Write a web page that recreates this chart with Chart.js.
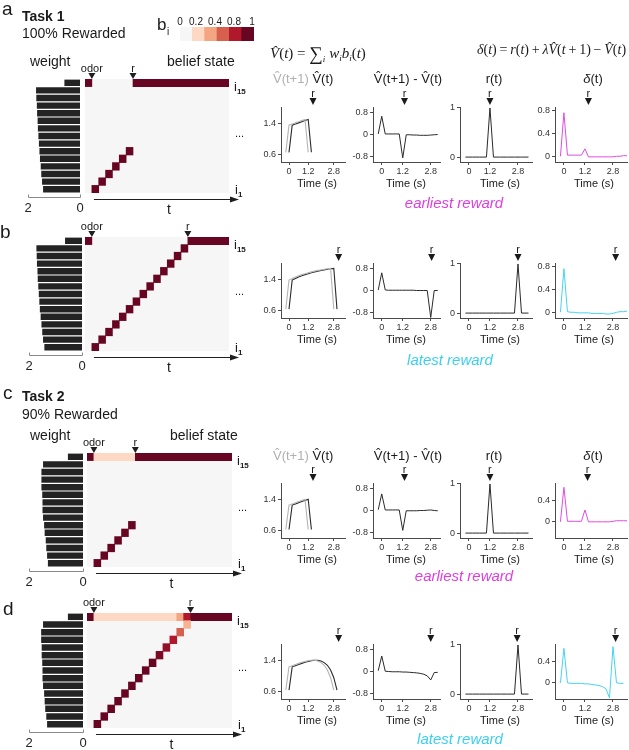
<!DOCTYPE html>
<html>
<head>
<meta charset="utf-8">
<script src="https://cdn.jsdelivr.net/npm/chart.js@4.4.1/dist/chart.umd.min.js"></script>
<style>
html,body{margin:0;padding:0;background:#fff;}
#root{position:relative;width:629px;height:750px;overflow:hidden;font-family:"Liberation Sans",Arial,sans-serif;color:#1a1a1a;}
.t{position:absolute;white-space:nowrap;line-height:1;}
.serif{font-family:"Liberation Serif","Times New Roman",serif;}
canvas{position:absolute;}
</style>
</head>
<body>
<div id="root"></div>
<script>
// ================= DATA =================
const states = ['i15','i14','i13','i12','i11','i10','i9','i8','i7','i6','i5','i4','i3','i2','i1'];

const weightsA = [0.60,1.69,1.68,1.66,1.65,1.63,1.62,1.60,1.58,1.56,1.54,1.51,1.49,1.46,1.42];
const weightsB = [0.64,1.72,1.71,1.70,1.68,1.67,1.65,1.63,1.61,1.59,1.56,1.53,1.50,1.47,1.42];
const weightsC = [0.56,1.48,1.54,1.54,1.54,1.51,1.50,1.50,1.48,1.44,1.42,1.38,1.36,1.33,1.30];
const weightsD = [0.56,1.48,1.55,1.55,1.53,1.53,1.51,1.50,1.50,1.48,1.44,1.42,1.40,1.36,1.33];
const weightTicks = [0, 2];
const weightTickLabels = ['0', '2'];

// belief cells: [state, startColumn, endColumn, b_i]
const N_COLS = 21;
const ODOR_COL = 1;
const rewardColumns = [7, 15, 7, 15];
const beliefA = [[15,0,1,1],[1,1,2,1],[2,2,3,1],[3,3,4,1],[4,4,5,1],[5,5,6,1],[6,6,7,1],[15,7,21,1]];
const beliefB = [[15,0,1,1],[1,1,2,1],[2,2,3,1],[3,3,4,1],[4,4,5,1],[5,5,6,1],[6,6,7,1],[7,7,8,1],
                 [8,8,9,1],[9,9,10,1],[10,10,11,1],[11,11,12,1],[12,12,13,1],[13,13,14,1],[14,14,15,1],[15,15,21,1]];
const beliefC = [[15,0,1,1],[15,1,7,0.2],[1,1,2,1],[2,2,3,1],[3,3,4,1],[4,4,5,1],[5,5,6,1],[6,6,7,1],[15,7,21,1]];
const beliefD = [[15,0,1,1],[15,1,13,0.2],[15,13,14,0.4],[15,14,15,0.8],[15,15,21,1],
                 [1,1,2,1],[2,2,3,1],[3,3,4,1],[4,4,5,1],[5,5,6,1],[6,6,7,1],[7,7,8,1],[8,8,9,1],[9,9,10,1],
                 [10,10,11,0.95],[11,11,12,0.88],[12,12,13,0.8],[13,13,14,0.6],[14,14,15,0.35]];

const colorbarValues = [0, 0.2, 0.4, 0.6, 0.8, 1];
const colorbarLabels = ['0', '0.2', '0.4', '0.8', '1'];
const cmapStops = [[0,'#f6f6f6'],[0.2,'#fdd9c3'],[0.4,'#f4a582'],[0.6,'#d6604d'],[0.8,'#b2182b'],[1,'#680522']];

// time axis (s) shared by the line panels
const tFull = [-0.2,0,0.2,0.4,0.6,0.8,1.0,1.2,1.4,1.6,1.8,2.0,2.2,2.4,2.6,2.8,3.0,3.2,3.4,3.6];
const timeTicks = [0, 1.2, 2.8];
const timeTickLabels = ['0', '1.2', '2.8'];

// row a (Task 1, earliest reward)
const vNowA  = [null,0.65,1.35,1.38,1.41,1.44,1.47,1.50,0.65];
const vNextA = [0.65,1.35,1.38,1.41,1.44,1.47,1.50,0.65];
const dVA    = [0.03,0.68,0.03,0.03,0.03,0.03,0.03,-0.85,0.00,0.00,-0.01,-0.01,-0.02,-0.02,-0.02,-0.01,0.00,0.01];
const rA     = [0,0,0,0,0,0,0,1,0,0,0,0,0,0,0,0,0,0,0];
const deltaA = [0,0.76,0.02,0.02,0.02,0.02,0.02,0.13,-0.01,-0.01,-0.01,-0.01,-0.01,-0.01,-0.01,-0.01,0.00,0.00,0.01,0.01];
// row b (Task 1, latest reward)
const vNowB  = [null,0.63,1.38,1.42,1.46,1.49,1.52,1.54,1.57,1.59,1.61,1.63,1.64,1.66,1.67,1.68,0.63];
const vNextB = [0.63,1.38,1.42,1.46,1.49,1.52,1.54,1.57,1.59,1.61,1.63,1.64,1.66,1.67,1.68,0.63];
const dVB    = [0.03,0.66,0.03,0.02,0.02,0.02,0.02,0.02,0.02,0.02,0.02,0.01,0.01,0.01,0.01,-0.98,0.01,0.01];
const rB     = [0,0,0,0,0,0,0,0,0,0,0,0,0,0,0,1,0,0,0];
const deltaB = [0,0.76,0.01,0.00,0.00,-0.01,-0.01,-0.01,-0.01,-0.02,-0.02,-0.02,-0.02,-0.03,-0.03,-0.02,0.00,0.01,0.01,0.02];
// row c (Task 2, earliest reward)
const vNowC  = [null,0.62,1.25,1.28,1.31,1.34,1.37,1.40,0.62];
const vNextC = [0.62,1.25,1.28,1.31,1.34,1.37,1.40,0.62];
const dVC    = [0.04,0.62,0.03,0.03,0.03,0.03,0.03,-0.72,0.00,0.00,0.00,0.00,0.01,0.01,0.02,0.03,0.01,0.00];
const rC     = [0,0,0,0,0,0,0,1,0,0,0,0,0,0,0,0,0,0,0];
const deltaC = [0,0.64,0.01,0.01,0.01,0.01,0.01,0.22,0.00,0.00,0.00,0.00,0.00,0.00,0.00,0.01,0.02,0.02,0.02,0.02];
// row d (Task 2, latest reward)
const vNowD  = [null,0.63,1.23,1.26,1.29,1.32,1.35,1.37,1.39,1.40,1.40,1.38,1.34,1.27,1.15,0.95,0.63];
const vNextD = [0.63,1.23,1.26,1.29,1.32,1.35,1.37,1.39,1.40,1.40,1.38,1.34,1.27,1.15,0.95,0.63];
const dVD    = [0.04,0.58,0.02,0.01,0.00,0.00,0.00,-0.01,-0.01,-0.02,-0.03,-0.04,-0.06,-0.09,-0.15,-0.30,-0.03,-0.02];
const rD     = [0,0,0,0,0,0,0,0,0,0,0,0,0,0,0,1,0,0,0];
const deltaD = [0,0.64,0.00,-0.01,-0.01,-0.01,-0.01,-0.02,-0.02,-0.03,-0.04,-0.05,-0.07,-0.11,-0.28,0.67,0.00,-0.01,-0.01];

// reward-arrow times drawn above each small panel [V, dV, r, delta]
const arrowTimesA = [1.5, 1.3, 1.2, 1.4];
const arrowTimesB = [3.1, 2.85, 2.8, 2.95];
const arrowTimesC = [1.5, 1.3, 1.2, 1.35];
const arrowTimesD = [3.1, 2.8, 2.75, 2.95];

const vTicks = [0.6, 1.4], vTickLabels = ['0.6', '1.4'];
const dVTicks = [-0.8, 0, 0.8], dVTickLabels = ['-0.8', '0', '0.8'];
const rTicks = [0, 1], rTickLabels = ['0', '1'];
const deltaTicks1 = [0, 0.4, 0.8], deltaTickLabels1 = ['0', '0.4', '0.8'];
const deltaTicks2 = [0, 0.4], deltaTickLabels2 = ['0', '0.4'];

// ================= DRAWING =================
const MAGENTA = '#e14be4', CYAN = '#45d3ef';
Chart.defaults.font.family = '"Liberation Sans", Arial, sans-serif';
Chart.defaults.color = '#333';
const root = document.getElementById('root');

function txt(html, x, base, size, o = {}) {
  const d = document.createElement('div');
  d.className = 't' + (o.serif ? ' serif' : '');
  d.innerHTML = html;
  d.style.fontSize = size + 'px';
  d.style.top = (base - 0.85 * size) + 'px';
  d.style.left = x + 'px';
  if (o.bold) d.style.fontWeight = 'bold';
  if (o.italic) d.style.fontStyle = 'italic';
  if (o.color) d.style.color = o.color;
  if (o.anchor === 'center') d.style.transform = 'translateX(-50%)';
  root.appendChild(d);
  return d;
}
function canvasAt(x, y, w, h) {
  const c = document.createElement('canvas');
  c.width = w; c.height = h;
  c.style.left = x + 'px'; c.style.top = y + 'px';
  c.style.width = w + 'px'; c.style.height = h + 'px';
  root.appendChild(c);
  return c;
}
function hexToRgb(h) { return [1,3,5].map(i => parseInt(h.slice(i, i + 2), 16)); }
function cmap(v) {
  for (let k = 1; k < cmapStops.length; k++) {
    const [v0, c0] = cmapStops[k - 1], [v1, c1] = cmapStops[k];
    if (v <= v1) {
      const f = (v - v0) / (v1 - v0), a = hexToRgb(c0), b = hexToRgb(c1);
      return 'rgb(' + a.map((q, i) => Math.round(q + (b[i] - q) * f)).join(',') + ')';
    }
  }
  return cmapStops[cmapStops.length - 1][1];
}
function tri(ctx, x, yTip, w, h) {
  ctx.beginPath(); ctx.moveTo(x - w / 2, yTip - h); ctx.lineTo(x + w / 2, yTip - h); ctx.lineTo(x, yTip); ctx.closePath(); ctx.fill();
}
const base = { responsive: false, animation: false, devicePixelRatio: 1 };

// ---- plugins
const rMark = { id: 'rmark', afterDraw(chart, args, o) {
  if (o.t == null) return;
  const { ctx, chartArea: a, scales: { x } } = chart;
  ctx.save(); ctx.fillStyle = '#1a1a1a'; tri(ctx, x.getPixelForValue(o.t), a.top - 2, 7, 7); ctx.restore();
}};
const hmDeco = { id: 'hmdeco', afterDraw(chart, args, o) {
  const { ctx, chartArea: a, scales: { x } } = chart;
  ctx.save(); ctx.fillStyle = '#1f1f1f'; ctx.strokeStyle = '#1f1f1f';
  tri(ctx, x.getPixelForValue(o.odorCol), a.top, 7, 6);
  tri(ctx, x.getPixelForValue(o.rewardCol), a.top, 7, 6);
  const y = Math.round(a.bottom + 6) + 0.5;
  const x0 = x.getPixelForValue(o.tStart), x1 = a.right + 10;
  ctx.lineWidth = 1.2; ctx.beginPath(); ctx.moveTo(x0, y); ctx.lineTo(x1 - 6, y); ctx.stroke();
  ctx.beginPath(); ctx.moveTo(x1, y); ctx.lineTo(x1 - 9, y - 3); ctx.lineTo(x1 - 9, y + 3); ctx.closePath(); ctx.fill();
  ctx.restore();
}};
const wAxis = { id: 'waxis', afterDraw(chart) {
  const { ctx, chartArea: a, scales: { x } } = chart;
  const y = Math.round(a.bottom + 4) + 0.5;
  const xl = Math.round(x.getPixelForValue(2)) + 0.5, xr = Math.round(x.getPixelForValue(0)) + 0.5;
  ctx.save(); ctx.strokeStyle = '#8a8a8a'; ctx.lineWidth = 1;
  ctx.beginPath(); ctx.moveTo(xl, y - 3); ctx.lineTo(xl, y); ctx.lineTo(xr, y); ctx.lineTo(xr, y - 3); ctx.stroke();
  ctx.restore();
}};

// ---- builders
const COLS = [
  { left: 281, w: 64, xmin: -0.5,  xmax: 3.5 },
  { left: 373, w: 67, xmin: -0.5,  xmax: 3.33 },
  { left: 460, w: 72, xmin: -0.51, xmax: 3.6 },
  { left: 555, w: 72, xmin: -0.51, xmax: 3.6 }
];
const PLOT_H = 55;
const TIME_LABEL_X = [317, 406, 500, 594];

function lineChart(col, top, sets, yMin, yMax, yTicks, yLabels, arrowT) {
  const C = COLS[col], padL = 30, padT = 20, padR = 5, padB = 14;
  const cx = C.left - padL, cy = top - padT;
  const cv = canvasAt(cx, cy, C.w + padL + padR, PLOT_H + padT + padB);
  const axisCol = '#4a4a4a';
  const chart = new Chart(cv, {
    type: 'line',
    data: { datasets: sets.map(d => ({
      data: d.values.map((v, i) => ({ x: tFull[i], y: v })).filter(p => p.y !== null),
      borderColor: d.color, borderWidth: d.width || 1, pointRadius: 0, tension: 0, fill: false })) },
    options: Object.assign({}, base, {
      layout: { padding: { top: padT, right: padR, left: 0, bottom: 0 } },
      plugins: { legend: { display: false }, tooltip: { enabled: false }, rmark: { t: arrowT } },
      scales: {
        x: { type: 'linear', min: C.xmin, max: C.xmax,
          afterBuildTicks: s => { s.ticks = timeTicks.map(v => ({ value: v })); },
          afterFit: s => { s.height = padB; },
          grid: { drawOnChartArea: false, tickLength: 3, color: axisCol },
          border: { color: axisCol, width: 1 },
          ticks: { font: { size: 9 }, color: '#333', padding: 1, maxRotation: 0, autoSkip: false, callback: (v, i) => timeTickLabels[i] } },
        y: { type: 'linear', min: yMin, max: yMax,
          afterBuildTicks: s => { s.ticks = yTicks.map(v => ({ value: v })); },
          afterFit: s => { s.width = padL; },
          grid: { drawOnChartArea: false, tickLength: 3, color: axisCol },
          border: { color: axisCol, width: 1 },
          ticks: { font: { size: 9 }, color: '#333', padding: 2, autoSkip: false, callback: (v, i) => yLabels[i] } }
      }
    }),
    plugins: [rMark]
  });
  txt('r', cx + chart.scales.x.getPixelForValue(arrowT), top - 10, 11, { anchor: 'center' });
  txt('Time (s)', TIME_LABEL_X[col], top + PLOT_H + 25, 11, { anchor: 'center' });
  return chart;
}

function heatmap(L, cells, rewardCol) {
  const padT = 8, padB = 12, padR = 16;
  const w = L.hmRight - L.hmLeft, h = L.hmBottom - L.hmTop;
  const cx = L.hmLeft, cy = L.hmTop - padT;
  const cv = canvasAt(cx, cy, w + padR, h + padT + padB);
  const bg = states.map(s => ({ y: s, x: [0, N_COLS], v: 0 }));
  const cellData = cells.map(c => ({ y: 'i' + c[0], x: [c[1], c[2]], v: c[3] }));
  const chart = new Chart(cv, {
    type: 'bar',
    data: { labels: states, datasets: [{ data: bg.concat(cellData),
      backgroundColor: ctx => (ctx.raw ? cmap(ctx.raw.v) : '#f6f6f6'),
      borderWidth: 0, barPercentage: 1, categoryPercentage: 1 }] },
    options: Object.assign({}, base, {
      indexAxis: 'y',
      layout: { padding: { top: padT, bottom: padB, left: 0, right: padR } },
      plugins: { legend: { display: false }, tooltip: { enabled: false },
        hmdeco: { odorCol: ODOR_COL, rewardCol: rewardCol, tStart: 1.3 } },
      scales: { x: { type: 'linear', min: 0, max: N_COLS, display: false },
                y: { type: 'category', offset: true, display: false } }
    }),
    plugins: [hmDeco]
  });
  txt('odor', cx + chart.scales.x.getPixelForValue(ODOR_COL), L.hmTop - 7, 11, { anchor: 'center' });
  txt('r', cx + chart.scales.x.getPixelForValue(rewardCol), L.hmTop - 7, 11, { anchor: 'center' });
  const lx = L.hmRight + 5;
  txt('i<span style="font-size:8px;font-weight:bold;position:relative;top:3px">15</span>', lx, L.hmTop + 12, 13);
  txt('...', lx + 1, L.hmTop + 58, 11);
  txt('i<span style="font-size:8px;font-weight:bold;position:relative;top:3px">1</span>', lx + 1, L.hmBottom + 1, 13);
  txt('t', (L.hmLeft + L.hmRight) / 2 + 12, L.hmBottom + 21, 14, { anchor: 'center' });
}

function weightChart(L, weights) {
  const padL = 10, padR = 6, axisH = 24;
  const h = L.hmBottom - L.hmTop;
  const cv = canvasAt(L.w0 - L.wW - padL, L.hmTop, L.wW + padL + padR, h + axisH);
  new Chart(cv, {
    type: 'bar',
    data: { labels: states, datasets: [{ data: weights, backgroundColor: '#232323', borderWidth: 0, barPercentage: 0.84, categoryPercentage: 1 }] },
    options: Object.assign({}, base, {
      indexAxis: 'y',
      layout: { padding: { left: padL, right: padR, top: 0, bottom: 0 } },
      plugins: { legend: { display: false }, tooltip: { enabled: false } },
      scales: {
        x: { type: 'linear', reverse: true, min: 0, max: 2,
          afterBuildTicks: s => { s.ticks = weightTicks.map(v => ({ value: v })); },
          afterFit: s => { s.height = axisH; },
          grid: { display: false, drawTicks: false }, border: { display: false },
          ticks: { font: { size: 13 }, color: '#222', padding: 8, maxRotation: 0, autoSkip: false, callback: (v, i) => weightTickLabels[i] } },
        y: { type: 'category', offset: true, display: false }
      }
    }),
    plugins: [wAxis]
  });
}

// ---- rows
const LAYOUT = [
  { hmTop: 79,  hmBottom: 193, hmLeft: 85, hmRight: 229, w0: 80, wW: 52, chartTop: 107 },
  { hmTop: 237, hmBottom: 351, hmLeft: 85, hmRight: 229, w0: 82, wW: 53, chartTop: 263 },
  { hmTop: 453, hmBottom: 567, hmLeft: 87, hmRight: 232, w0: 83, wW: 54, chartTop: 483 },
  { hmTop: 613, hmBottom: 728, hmLeft: 87, hmRight: 232, w0: 83, wW: 54, chartTop: 644 }
];
const ROWS = [
  { w: weightsA, b: beliefA, vN: vNowA, vX: vNextA, dV: dVA, r: rA, d: deltaA, ar: arrowTimesA, dc: MAGENTA, dr: [-0.1, 0.86], dt: deltaTicks1, dl: deltaTickLabels1 },
  { w: weightsB, b: beliefB, vN: vNowB, vX: vNextB, dV: dVB, r: rB, d: deltaB, ar: arrowTimesB, dc: CYAN,    dr: [-0.1, 0.86], dt: deltaTicks1, dl: deltaTickLabels1 },
  { w: weightsC, b: beliefC, vN: vNowC, vX: vNextC, dV: dVC, r: rC, d: deltaC, ar: arrowTimesC, dc: MAGENTA, dr: [-0.3, 0.72], dt: deltaTicks2, dl: deltaTickLabels2 },
  { w: weightsD, b: beliefD, vN: vNowD, vX: vNextD, dV: dVD, r: rD, d: deltaD, ar: arrowTimesD, dc: CYAN,    dr: [-0.3, 0.72], dt: deltaTicks2, dl: deltaTickLabels2 }
];

ROWS.forEach((R, k) => {
  const L = LAYOUT[k];
  weightChart(L, R.w);
  heatmap(L, R.b, rewardColumns[k]);
  const T = L.chartTop;
  lineChart(0, T, [{ values: R.vX, color: '#b4b4b4', width: 1.1 }, { values: R.vN, color: '#2a2a2a', width: 1.1 }], 0.4, 1.82, vTicks, vTickLabels, R.ar[0]);
  lineChart(1, T, [{ values: R.dV, color: '#2a2a2a' }], -1, 1.02, dVTicks, dVTickLabels, R.ar[1]);
  lineChart(2, T, [{ values: R.r, color: '#2a2a2a' }], -0.1, 1.02, rTicks, rTickLabels, R.ar[2]);
  lineChart(3, T, [{ values: R.d, color: R.dc }], R.dr[0], R.dr[1], R.dt, R.dl, R.ar[3]);
});

// colorbar
const cbc = canvasAt(180, 27, 74, 14);
new Chart(cbc, {
  type: 'bar',
  data: { labels: ['b'], datasets: [{ data: colorbarValues.map((v, k) => ({ y: 'b', x: [k, k + 1], v: v })),
    backgroundColor: ctx => (ctx.raw ? cmap(ctx.raw.v) : '#fff'), borderWidth: 0, barPercentage: 1, categoryPercentage: 1 }] },
  options: Object.assign({}, base, { indexAxis: 'y', layout: { padding: 0 },
    plugins: { legend: { display: false }, tooltip: { enabled: false } },
    scales: { x: { type: 'linear', min: 0, max: colorbarValues.length, display: false }, y: { type: 'category', display: false } } })
});
const CB_LABEL_X = [180, 196, 215, 234, 252];
colorbarLabels.forEach((s, i) => txt(s, CB_LABEL_X[i], 25, 10, { anchor: 'center' }));
txt('b', 157, 30, 17);
txt('i', 167, 35, 10);

// ---- static texts
txt('a', 2, 15, 19);
txt('Task 1', 22, 21, 14, { bold: true });
txt('100% Rewarded', 22, 38, 14);
txt('weight', 30, 66, 14);
txt('belief state', 167, 66, 14);
txt('b', 0, 238, 19);
txt('c', 3, 399, 19);
txt('Task 2', 22, 401, 14, { bold: true });
txt('90% Rewarded', 22, 419, 14);
txt('weight', 30, 440, 14);
txt('belief state', 170, 440, 14);
txt('d', 3, 615, 19);

txt('<i>V̂</i>(<i>t</i>) = <span style="font-size:19px;position:relative;top:2px">∑</span><span style="font-size:9px;position:relative;top:4px"><i>i</i></span> <i>w<span style="font-size:9px;position:relative;top:3px">i</span>b<span style="font-size:9px;position:relative;top:3px">i</span></i>(<i>t</i>)', 270, 55, 15, { serif: true });
txt('<i>δ</i>(<i>t</i>)&thinsp;=&thinsp;<i>r</i>(<i>t</i>)&thinsp;+&thinsp;<i>λV̂</i>(<i>t</i>&thinsp;+&thinsp;1)&thinsp;−&thinsp;<i>V̂</i>(<i>t</i>)', 477, 55, 14, { serif: true });

[83, 460].forEach(b => {
  txt('<span style="color:#b0b0b0">V̂(t+1)</span> V̂(t)', 273, b, 13);
  txt('V̂(t+1) - V̂(t)', 408, b, 13, { anchor: 'center' });
  txt('r(t)', 494, b, 13, { anchor: 'center' });
  txt('<i>δ</i>(t)', 593, b, 13, { anchor: 'center' });
});

txt('earliest reward', 454, 208, 15, { italic: true, color: '#e03de0', anchor: 'center' });
txt('latest reward', 450, 365, 15, { italic: true, color: '#3ccfee', anchor: 'center' });
txt('earliest reward', 464, 581, 15, { italic: true, color: '#e03de0', anchor: 'center' });
txt('latest reward', 460, 744, 15, { italic: true, color: '#3ccfee', anchor: 'center' });
</script>
</body>
</html>
